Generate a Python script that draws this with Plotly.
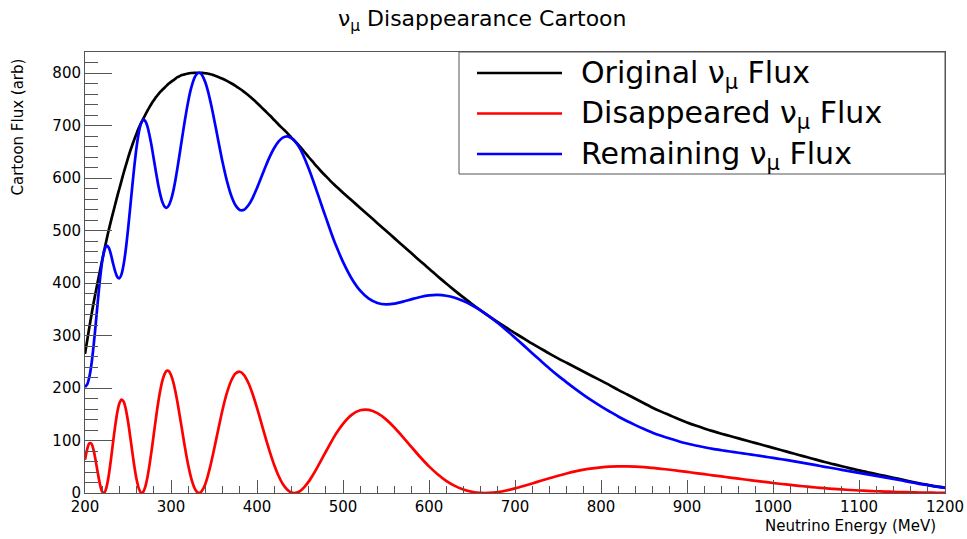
import plotly.graph_objects as go

# ---- data (energy in MeV, flux in arb. units) ----
energy = [200, 202.5, 205, 207.5, 210, 212.5, 215, 217.5, 220, 222.5, 225, 227.5, 230, 232.5, 235,
          237.5, 240, 242.5, 245, 247.5, 250, 252.5, 255, 257.5, 260, 262.5, 265, 267.5, 270, 272.5,
          275, 277.5, 280, 282.5, 285, 287.5, 290, 292.5, 295, 297.5, 300, 302.5, 305, 307.5, 310,
          312.5, 315, 317.5, 320, 322.5, 325, 327.5, 330, 332.5, 335, 337.5, 340, 342.5, 345, 347.5,
          350,
          355, 360, 365, 370, 375, 380, 385, 390, 395, 400, 405, 410, 415, 420, 425, 430, 435, 440,
          445, 450, 455, 460, 465, 470, 475, 480, 485, 490, 495, 500,
          510, 520, 530, 540, 550, 560, 570, 580, 590, 600, 610, 620, 630, 640, 650, 660, 670, 680,
          690, 700, 710, 720, 730, 740, 750, 760, 770, 780, 790, 800, 810, 820, 830, 840, 850, 860,
          870, 880, 890, 900, 910, 920, 930, 940, 950, 960, 970, 980, 990, 1000, 1010, 1020, 1030,
          1040, 1050, 1060, 1070, 1080, 1090, 1100, 1110, 1120, 1130, 1140, 1150, 1160, 1170, 1180,
          1190, 1200]

flux_original = [265, 290, 315, 339, 362, 383, 404, 424, 444, 463, 482, 500, 517, 533, 549,
                 565, 580, 595, 610, 624, 638, 651, 663, 674, 685, 695, 704, 712, 720, 728,
                 735, 742, 748, 754, 759, 764, 768, 772, 776, 780, 783, 786, 789, 792, 794,
                 796, 797, 798, 799, 800, 800, 800.5, 800.5, 800.5, 800.5, 800, 799.5, 799, 798, 797,
                 795.5,
                 792.5, 789, 785, 780.5, 775.5, 770, 764, 757.5, 750.5, 743, 735, 727, 719, 710.5, 702,
                 694, 686, 677, 668.5, 659.5, 650, 640, 630.5, 621, 612, 603.5, 595, 587, 579.5, 572,
                 557.5, 543, 528.5, 514, 499.5, 485, 470.5, 456, 441.5, 427, 413, 399, 385.5, 372.5,
                 360, 348, 336.5, 325.5, 315, 304.5, 294.5, 284.5, 275, 265.5, 256.5, 248, 239.5, 231,
                 222.5, 214, 205.5, 196.5, 188, 179.5, 171, 162.5, 155, 148, 141, 134.5, 128.5, 123,
                 117.8, 113, 108.5, 104, 99.5, 95, 90.5, 86, 81.5, 77, 72.5, 68, 63.5, 59, 55, 51, 47,
                 43, 39.5, 36, 32.5, 29, 25.5, 22, 18.5, 15.5, 12.5, 10]

flux_disappeared = [63.1, 83.1, 94.4, 93.8, 81.5, 60.7, 37.0, 15.9, 2.7, 0.7, 11.0, 32.4, 61.7, 95.0,
                    126.3, 153.3, 171.0, 178.1, 174.0, 159.3, 136.5, 108.2, 78.4, 49.6, 25.7, 9.2, 0.7,
                    1.6, 11.4, 29.1, 53.5, 81.7, 112.2, 142.7, 170.8, 195.1, 214.0, 226.5, 232.7,
                    232.1, 224.8, 212.0, 194.3, 172.7, 148.6, 124.0, 98.7, 74.9, 53.2, 34.6, 19.6, 8.7,
                    2.2, 0.0, 2.1, 8.2, 17.7, 30.7, 46.3, 63.8, 82.5,
                    121.4, 159.1, 190.6, 213.9, 227.5, 231.0, 224.6, 209.5, 188.2, 162.0, 133.6, 104.9,
                    77.8, 53.3, 32.9, 17.2, 6.6, 1.0, 0.2, 3.7, 11.3, 21.6, 34.3, 48.3, 63.4, 78.6,
                    93.5, 107.9, 120.3, 131.8,
                    148.8, 157.6, 158.4, 152.1, 140.2, 124.2, 105.9, 86.8, 68.1, 50.7, 35.8, 23.2, 13.5,
                    6.6, 2.3, 0.2, 0.2, 1.8, 4.8, 8.7, 13.3, 18.2, 23.3, 28.2, 32.9, 37.2, 41.1, 44.4,
                    47.0, 48.9, 50.2, 50.7, 50.8, 50.2, 49.2, 47.7, 46.1, 44.3, 42.3, 40.2, 38.0, 35.8,
                    33.7, 31.5, 29.4, 27.3, 25.2, 23.1, 21.1, 19.1, 17.2, 15.4, 13.7, 12.0, 10.5, 9.1,
                    7.9, 6.8, 5.7, 4.8, 4.0, 3.3, 2.7, 2.2, 1.7, 1.3, 1.0, 0.7, 0.5, 0.3]

flux_remaining = [201.9, 206.9, 220.6, 245.2, 280.5, 322.3, 367.0, 408.1, 441.3, 462.3, 471.0, 467.6,
                  455.3, 438.0, 422.7, 411.7, 409.0, 416.9, 436.0, 464.7, 501.5, 542.8, 584.6, 624.4,
                  659.3, 685.8, 703.3, 710.4, 708.6, 698.9, 681.5, 660.3, 635.8, 611.3, 588.2, 568.9,
                  554.0, 545.5, 543.3, 547.9, 558.2, 574.0, 594.7, 619.3, 645.4, 672.0, 698.3, 723.1,
                  745.8, 765.4, 780.4, 791.8, 798.3, 800.5, 798.4, 791.8, 781.8, 768.3, 751.7, 733.2,
                  713.0,
                  671.1, 629.9, 594.4, 566.6, 548.0, 539.0, 539.4, 548.0, 562.3, 581.0, 601.4, 622.1,
                  641.2, 657.2, 669.1, 676.8, 679.4, 676.0, 668.3, 655.8, 638.7, 618.4, 596.2, 572.7,
                  548.6, 524.9, 501.5, 479.1, 459.2, 440.2,
                  408.7, 385.4, 370.1, 361.9, 359.3, 360.8, 364.6, 369.2, 373.4, 376.3, 377.2, 375.8,
                  372.0, 365.9, 357.7, 347.8, 336.3, 323.7, 310.2, 295.8, 281.2, 266.3, 251.7, 237.3,
                  223.6, 210.8, 198.4, 186.6, 175.5, 165.1, 155.3, 145.8, 137.2, 129.3, 121.8, 114.8,
                  108.9, 103.7, 98.7, 94.3, 90.5, 87.2, 84.1, 81.5, 79.1, 76.7, 74.3, 71.9, 69.4, 66.9,
                  64.3, 61.6, 58.8, 56.0, 53.0, 49.9, 47.1, 44.2, 41.3, 38.2, 35.5, 32.7, 29.8, 26.8,
                  23.8, 20.7, 17.5, 14.8, 12.0, 9.7]

series_names = ["Original ν<sub>μ</sub> Flux", "Disappeared ν<sub>μ</sub> Flux",
                "Remaining ν<sub>μ</sub> Flux"]
series_colors = ["#000000", "#ff0000", "#0000ff"]

title_text = "ν<sub>μ</sub> Disappearance Cartoon"
x_title = "Neutrino Energy (MeV)"
y_title = "Cartoon Flux (arb)"

FONT = "DejaVu Sans, Liberation Sans, Arial, sans-serif"
FRAME = "#555555"

fig = go.Figure()
for ys, name, col in [(flux_original, series_names[0], series_colors[0]),
                      (flux_disappeared, series_names[1], series_colors[1]),
                      (flux_remaining, series_names[2], series_colors[2])]:
    fig.add_trace(go.Scatter(x=energy, y=ys, mode="lines", name=name,
                             line=dict(color=col, width=2.7, shape="spline", smoothing=0.8),
                             showlegend=False, hoverinfo="skip"))

axis_common = dict(showgrid=False, zeroline=False, showline=True, mirror=True,
                   linecolor=FRAME, linewidth=1, ticks="inside", tickcolor=FRAME,
                   automargin=False, ticklabeloverflow="allow",
                   tickfont=dict(family=FONT, size=15, color="black"))

fig.update_xaxes(range=[200, 1200], dtick=100, tick0=200, ticklen=13, tickwidth=1,
                 minor=dict(dtick=20, ticklen=7, ticks="inside", tickcolor=FRAME, tickwidth=1),
                 **axis_common)
fig.update_yaxes(range=[0, 840], dtick=100, tick0=0, ticklen=27, tickwidth=1,
                 minor=dict(dtick=20, ticklen=13, ticks="inside", tickcolor=FRAME, tickwidth=1),
                 **axis_common)

W, H = 967, 539
L, R, T, B = 85, 22, 52, 46
pw, ph = W - L - R, H - T - B


def px_x(p):
    return (p - L) / pw


def px_y(p):
    return (H - B - p) / ph


shapes = []
annotations = []
# legend drawn by hand (long line samples like the reference)
shapes.append(dict(type="rect", xref="paper", yref="paper",
                   x0=px_x(459), x1=px_x(945), y0=px_y(174), y1=px_y(52),
                   line=dict(color=FRAME, width=1), fillcolor="white", layer="above"))
for i, (name, col) in enumerate(zip(series_names, series_colors)):
    yc = [73, 113.5, 154][i]
    shapes.append(dict(type="line", xref="paper", yref="paper",
                       x0=px_x(477), x1=px_x(562), y0=px_y(yc), y1=px_y(yc),
                       line=dict(color=col, width=2.7), layer="above"))
    annotations.append(dict(xref="paper", yref="paper", x=px_x(579), y=px_y(yc + 1),
                            xanchor="left", yanchor="middle", showarrow=False,
                            text=name, font=dict(family=FONT, size=30, color="black")))

annotations.append(dict(xref="paper", yref="paper", x=px_x(938), y=px_y(526),
                        xanchor="right", yanchor="middle", showarrow=False,
                        text=x_title, font=dict(family=FONT, size=15, color="black")))
annotations.append(dict(xref="paper", yref="paper", x=px_x(18), y=px_y(57),
                        xanchor="center", yanchor="top", showarrow=False, textangle=-90,
                        text=y_title, font=dict(family=FONT, size=15, color="black")))
annotations.append(dict(xref="paper", yref="paper", x=px_x(482), y=px_y(20),
                        xanchor="center", yanchor="middle", showarrow=False,
                        text=title_text, font=dict(family=FONT, size=22, color="black")))

fig.update_layout(
    width=W, height=H,
    margin=dict(l=L, r=R, t=T, b=B),
    paper_bgcolor="white", plot_bgcolor="white",
    shapes=shapes, annotations=annotations, showlegend=False,
)

fig.write_html("out.html")
